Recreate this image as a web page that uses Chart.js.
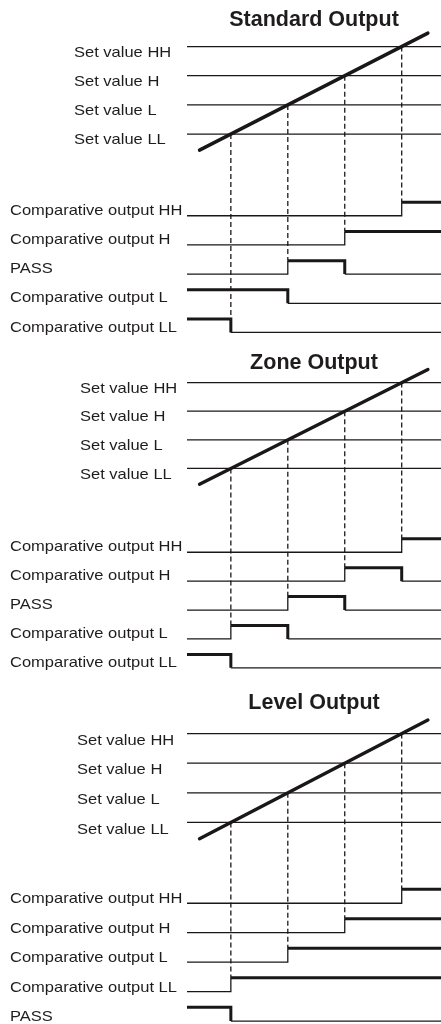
<!DOCTYPE html>
<html>
<head>
<meta charset="utf-8">
<script src="https://cdn.jsdelivr.net/npm/chart.js@4.4.1/dist/chart.umd.min.js"></script>
<style>
  body { margin: 0; background: #fff; }
  canvas { display: block; }
</style>
</head>
<body>
<canvas id="standard" width="441" height="340"></canvas>
<canvas id="zone" width="441" height="340"></canvas>
<canvas id="level" width="441" height="344"></canvas>
<script>
// measured value rises linearly with time; set values are crossed at t = 1..4
const SET_VALUE_LABELS = ['Set value LL', 'Set value L', 'Set value H', 'Set value HH'];
const SET_VALUES = [1, 2, 3, 4];
const SWITCH_TIMES = [1, 2, 3, 4];
const RAMP_TIMES = [0.45, 4.46];
const RAMP_VALUES = [0.45, 4.46];
const TIME_MIN = 0.23;
const TIME_MAX = 4.69;

// output rows, top to bottom; states per interval between switch times (1 = ON)
const STANDARD_ROWS = ['Comparative output HH', 'Comparative output H', 'PASS', 'Comparative output L', 'Comparative output LL'];
const STANDARD_STATES = [
    [0, 0, 0, 0, 1],
    [0, 0, 0, 1, 1],
    [0, 0, 1, 0, 0],
    [1, 1, 0, 0, 0],
    [1, 0, 0, 0, 0],
];
const ZONE_ROWS = ['Comparative output HH', 'Comparative output H', 'PASS', 'Comparative output L', 'Comparative output LL'];
const ZONE_STATES = [
    [0, 0, 0, 0, 1],
    [0, 0, 0, 1, 0],
    [0, 0, 1, 0, 0],
    [0, 1, 0, 0, 0],
    [1, 0, 0, 0, 0],
];
const LEVEL_ROWS = ['Comparative output HH', 'Comparative output H', 'Comparative output L', 'Comparative output LL', 'PASS'];
const LEVEL_STATES = [
    [0, 0, 0, 0, 1],
    [0, 0, 0, 1, 1],
    [0, 0, 1, 1, 1],
    [0, 1, 1, 1, 1],
    [1, 0, 0, 0, 0],
];

const INK = '#1a1718';
const TEXT_COLOR = '#1f1c1d';

// layout of each panel (axis ranges, row spacing, label offsets)
const PANELS = [
    { id: 'standard', title: 'Standard Output', rows: STANDARD_ROWS, states: STANDARD_STATES,
      titleTop: 7, yMin: -6.058, yMax: 4.471, rowTop: -1.8, rowStep: 1.0, high: 0.46, setLabelX: 74, setDy: 6, rowDy: 5 },
    { id: 'zone', title: 'Zone Output', rows: ZONE_ROWS, states: ZONE_STATES,
      titleTop: 10, yMin: -6.394, yMax: 4.237, rowTop: -1.93, rowStep: 1.01, high: 0.47, setLabelX: 80, setDy: 6, rowDy: 5 },
    { id: 'level', title: 'Level Output', rows: LEVEL_ROWS, states: LEVEL_STATES,
      titleTop: 10, yMin: -5.808, yMax: 4.6, rowTop: -1.73, rowStep: 0.995, high: 0.47, setLabelX: 77, setDy: 7, rowDy: 4 },
];

function rowBase(panel, r) {
    return panel.rowTop - r * panel.rowStep;
}

function drawText(ctx, text, x, y) {
    ctx.save();
    ctx.translate(x, y);
    ctx.scale(1.1, 1);
    ctx.fillText(text, 0, 0);
    ctx.restore();
}

function labelPlugin(panel) {
    return {
        id: 'sideLabels',
        afterDraw(chart) {
            const ctx = chart.ctx;
            const y = chart.scales.y;
            ctx.save();
            ctx.fillStyle = TEXT_COLOR;
            ctx.font = '15px "Liberation Sans", Arial, sans-serif';
            ctx.textBaseline = 'middle';
            ctx.textAlign = 'left';
            SET_VALUES.forEach((v, i) => {
                drawText(ctx, SET_VALUE_LABELS[i], panel.setLabelX, y.getPixelForValue(v) + panel.setDy);
            });
            panel.rows.forEach((name, r) => {
                drawText(ctx, name, 10, y.getPixelForValue(rowBase(panel, r)) - panel.rowDy);
            });
            ctx.restore();
        }
    };
}

function buildDatasets(panel) {
    const sets = [];
    const starts = [TIME_MIN].concat(SWITCH_TIMES);

    // ramp of the measured value
    sets.push({
        data: RAMP_TIMES.map((t, i) => ({ x: t, y: RAMP_VALUES[i] })),
        borderColor: INK,
        borderWidth: 3.4,
        borderCapStyle: 'round',
        clip: false,
    });

    // output signals
    panel.states.forEach((states, r) => {
        const base = rowBase(panel, r);
        const pts = starts.map((t, k) => ({ x: t, y: base + states[k] * panel.high }));
        pts.push({ x: TIME_MAX, y: base + states[states.length - 1] * panel.high });
        sets.push({
            data: pts,
            stepped: true,
            borderColor: INK,
            borderWidth: 1.3,
            segment: {
                borderWidth: ctx => (states[ctx.p0DataIndex] ? 3 : 1.3)
            }
        });
    });

    // dashed guides from each crossing down to the first output that switches
    SWITCH_TIMES.forEach((t, k) => {
        const r = panel.states.findIndex(s => s[k] !== s[k + 1]);
        sets.push({
            data: [{ x: t, y: SET_VALUES[k] }, { x: t, y: rowBase(panel, r) + panel.high }],
            borderColor: INK,
            borderWidth: 1.3,
            borderDash: [5, 3],
        });
    });

    // set value levels
    SET_VALUES.forEach(v => {
        sets.push({
            data: [{ x: TIME_MIN, y: v }, { x: TIME_MAX, y: v }],
            borderColor: INK,
            borderWidth: 1.3,
        });
    });
    return sets;
}

PANELS.forEach(panel => {
    new Chart(document.getElementById(panel.id), {
        type: 'line',
        data: { datasets: buildDatasets(panel) },
        options: {
            responsive: false,
            animation: false,
            devicePixelRatio: 1,
            layout: { padding: { left: 187, right: 0, top: 0, bottom: 0 } },
            elements: { point: { radius: 0 }, line: { tension: 0 } },
            plugins: {
                legend: { display: false },
                tooltip: { enabled: false },
                title: {
                    display: true,
                    text: panel.title,
                    color: TEXT_COLOR,
                    font: { family: '"Liberation Sans", Arial, sans-serif', size: 21.5, weight: 'bold' },
                    padding: { top: panel.titleTop, bottom: 0 },
                }
            },
            scales: {
                x: { type: 'linear', min: TIME_MIN, max: TIME_MAX, display: false },
                y: { type: 'linear', min: panel.yMin, max: panel.yMax, display: false }
            }
        },
        plugins: [labelPlugin(panel)]
    });
});
</script>
</body>
</html>
